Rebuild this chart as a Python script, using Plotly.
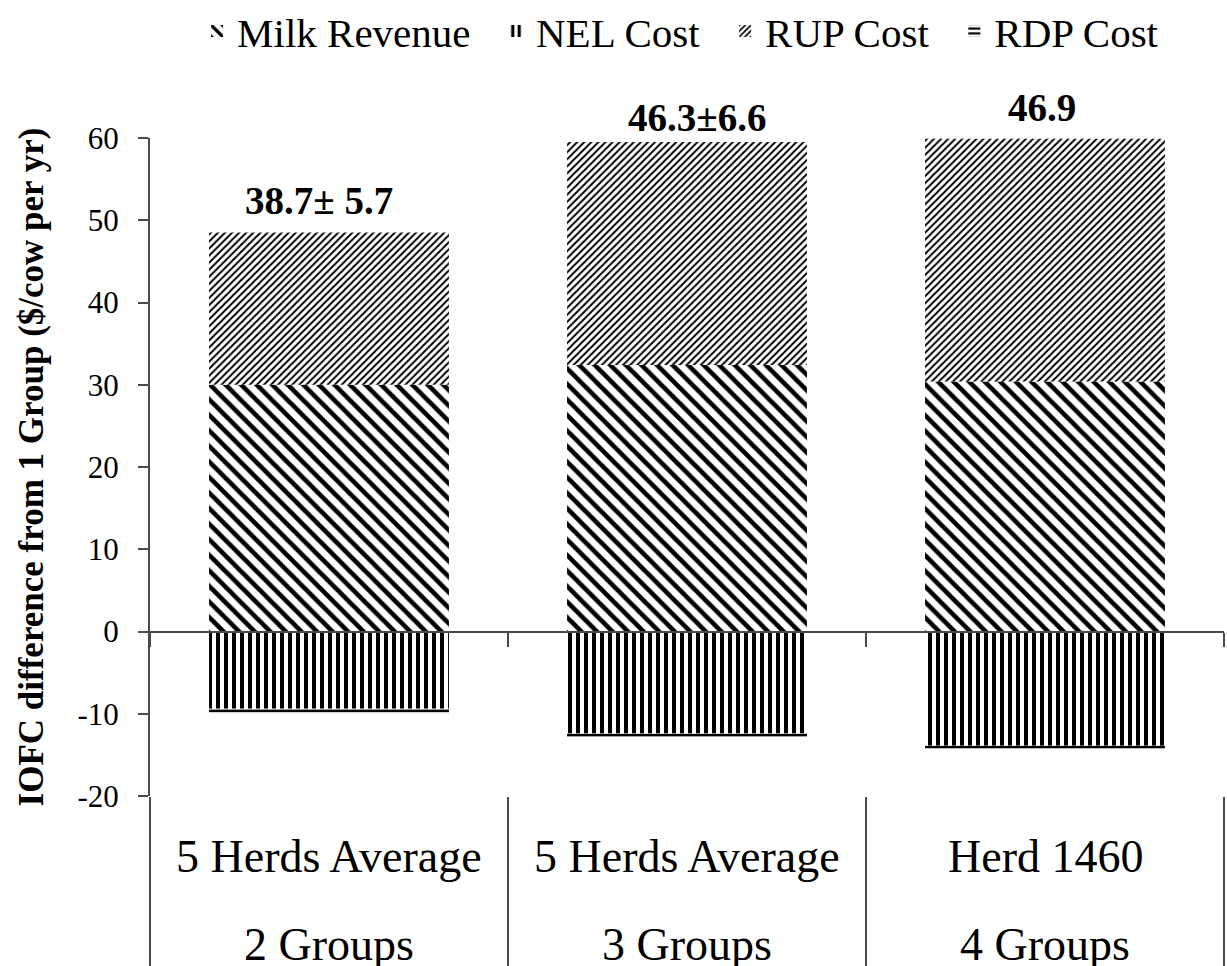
import plotly.graph_objects as go

categories = ["5 Herds Average<br>2 Groups", "5 Herds Average<br>3 Groups", "Herd 1460<br>4 Groups"]
label_line1 = ["5 Herds Average", "5 Herds Average", "Herd 1460"]
label_line2 = ["2 Groups", "3 Groups", "4 Groups"]

milk_revenue = [30.0, 32.4, 30.4]
nel_cost = [-9.4, -12.4, -13.9]
rup_cost = [18.5, 27.1, 29.5]
rdp_cost = [-0.45, -0.45, -0.35]
total_labels = ["38.7± 5.7", "46.3±6.6", "46.9"]
series_names = ["Milk Revenue", "NEL Cost", "RUP Cost", "RDP Cost"]

y_ticks = [-20, -10, 0, 10, 20, 30, 40, 50, 60]
y_ticktext = [str(v) for v in y_ticks]

FONT = "Liberation Serif, Times New Roman, serif"
AXIS = "#4a4a4a"
NB = "\u00a0\u00a0"

fig = go.Figure()

series = [
    (series_names[0] + NB, milk_revenue, "\\", 11, 0.42),
    (series_names[1] + NB, nel_cost, "|", 8, 0.5),
    (series_names[2] + NB, rup_cost, "/", 5, 0.4),
    (series_names[3], rdp_cost, "-", 6, 0.45),
]
for name, vals, shape, size, sol in series:
    fig.add_trace(go.Bar(
        x=categories, y=vals, name=name, width=0.67,
        marker=dict(color="black", line=dict(width=0),
                    pattern=dict(shape=shape, size=size, solidity=sol,
                                 fgcolor="black", bgcolor="white", fillmode="replace")),
        hoverinfo="name+y",
    ))

# helper axis drawn along zero with ticks on category boundaries
fig.add_trace(go.Scatter(x=categories, y=[None] * len(categories), xaxis="x2", yaxis="y",
                         showlegend=False, hoverinfo="skip", mode="lines"))

ymin, ymax = y_ticks[0], y_ticks[-1]
zero_pos = (0 - ymin) / (ymax - ymin)

fig.update_layout(
    width=1227, height=966,
    margin=dict(l=150, r=3, t=138, b=170, autoexpand=False),
    paper_bgcolor="white", plot_bgcolor="white",
    barmode="relative",
    font=dict(family=FONT, color="black"),
    showlegend=True,
    legend=dict(orientation="h", x=0.494, xanchor="center", y=1.213, yanchor="top",
                font=dict(size=41, family=FONT), itemwidth=30, traceorder="normal",
                bgcolor="rgba(0,0,0,0)"),
    xaxis=dict(type="category", categoryarray=categories, range=[-0.5, 2.5],
               showline=False, showticklabels=False, showgrid=False, zeroline=False,
               ticks="outside", tickson="boundaries", ticklen=170, tickwidth=2, tickcolor=AXIS),
    xaxis2=dict(type="category", categoryarray=categories, range=[-0.5, 2.5],
                overlaying="x", anchor="free", position=zero_pos, side="bottom",
                showline=True, linecolor=AXIS, linewidth=2,
                showticklabels=False, showgrid=False, zeroline=False,
                ticks="outside", tickson="boundaries", ticklen=14, tickwidth=2, tickcolor=AXIS),
    yaxis=dict(range=[ymin, ymax], tickvals=y_ticks, ticktext=y_ticktext, ticks="outside", ticklen=10,
               tickwidth=2, tickcolor=AXIS, showline=True, linecolor=AXIS, linewidth=2,
               showgrid=False, zeroline=False, ticklabelstandoff=13,
               tickfont=dict(size=31, family=FONT, color="black"),
               title=dict(text="<b>IOFC difference from 1 Group ($/cow per yr)</b>",
                          font=dict(size=35, family=FONT, color="black"), standoff=23)),
)

annotations = []
label_xshift = [-10, 10, -3]
label_yshift = [9, 1, 8]
for i, cat in enumerate(categories):
    top = milk_revenue[i] + rup_cost[i]
    annotations.append(dict(x=cat, y=top, xref="x", yref="y", text="<b>" + total_labels[i] + "</b>",
                            showarrow=False, yanchor="bottom", yshift=label_yshift[i],
                            xshift=label_xshift[i],
                            font=dict(size=39, family=FONT, color="black")))
    annotations.append(dict(x=cat, y=0, xref="x", yref="paper", text=label_line1[i],
                            showarrow=False, yanchor="middle", yshift=-60,
                            font=dict(size=46, family=FONT, color="black")))
    annotations.append(dict(x=cat, y=0, xref="x", yref="paper", text=label_line2[i],
                            showarrow=False, yanchor="middle", yshift=-148,
                            font=dict(size=46, family=FONT, color="black")))
fig.update_layout(annotations=annotations)

fig.write_html("out.html", config={"displayModeBar": False},
               post_script="document.body.style.margin='0';document.body.style.overflow='hidden';")
